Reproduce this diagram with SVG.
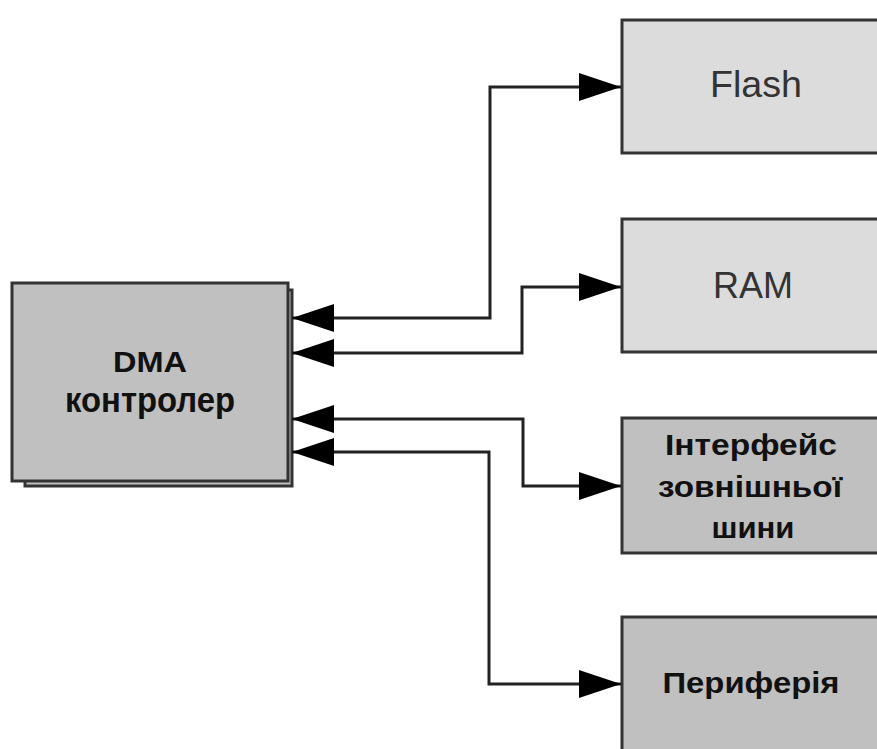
<svg xmlns="http://www.w3.org/2000/svg" width="877" height="749" viewBox="0 0 877 749">
  <style>
    .box { stroke: #333; stroke-width: 3; }
    .light { fill: #dcdcdc; }
    .dark { fill: #c0c0c0; }
    .lbl { font-family: "Liberation Sans", Arial, sans-serif; text-anchor: middle; }
    .reg { font-size: 36px; fill: #333; }
    .bold { font-size: 30px; font-weight: bold; fill: #111; }
    .wire { fill: none; stroke: #222; stroke-width: 3; }
  </style>
  <defs>
    <marker id="arrow" viewBox="0 0 42 28" refX="42" refY="14" markerWidth="42" markerHeight="28" markerUnits="userSpaceOnUse" orient="auto-start-reverse">
      <path d="M0,0 L42,14 L0,28 Z" fill="#000"/>
    </marker>
  </defs>
  <rect width="877" height="749" fill="#fff"/>

  <!-- DMA controller with stacked back page -->
  <g id="dma">
    <rect x="25" y="290" width="267" height="196" class="box dark"/>
    <rect x="12" y="283" width="276" height="198" class="box dark"/>
    <text x="150" y="372" class="lbl bold" textLength="74" lengthAdjust="spacingAndGlyphs">DMA</text>
    <text x="150" y="412" class="lbl bold" style="font-size:35px" textLength="170" lengthAdjust="spacingAndGlyphs">контролер</text>
  </g>

  <g id="flash">
    <rect x="622" y="20" width="280" height="133" class="box light"/>
    <text x="756" y="97" class="lbl reg" textLength="92" lengthAdjust="spacingAndGlyphs">Flash</text>
  </g>

  <g id="ram">
    <rect x="622" y="219" width="280" height="133" class="box light"/>
    <text x="753" y="298" class="lbl reg" textLength="80" lengthAdjust="spacingAndGlyphs">RAM</text>
  </g>

  <g id="bus-interface">
    <rect x="622" y="418" width="280" height="135" class="box dark"/>
    <text x="751" y="455" class="lbl bold" textLength="172" lengthAdjust="spacingAndGlyphs">Інтерфейс</text>
    <text x="750" y="497" class="lbl bold" textLength="184" lengthAdjust="spacingAndGlyphs">зовнішньої</text>
    <text x="753" y="538" class="lbl bold" textLength="83" lengthAdjust="spacingAndGlyphs">шини</text>
  </g>

  <g id="peripherals">
    <rect x="622" y="617" width="280" height="150" class="box dark"/>
    <text x="751" y="693" class="lbl bold" textLength="177" lengthAdjust="spacingAndGlyphs">Периферія</text>
  </g>

  <!-- bidirectional links between the controller and each target -->
  <g id="connectors">
    <path class="wire" d="M292,318 H490 V87 H621" marker-start="url(#arrow)" marker-end="url(#arrow)"/>
    <path class="wire" d="M292,353 H522 V287 H621" marker-start="url(#arrow)" marker-end="url(#arrow)"/>
    <path class="wire" d="M292,419 H523 V486 H621" marker-start="url(#arrow)" marker-end="url(#arrow)"/>
    <path class="wire" d="M292,452 H489 V684 H621" marker-start="url(#arrow)" marker-end="url(#arrow)"/>
  </g>
</svg>
